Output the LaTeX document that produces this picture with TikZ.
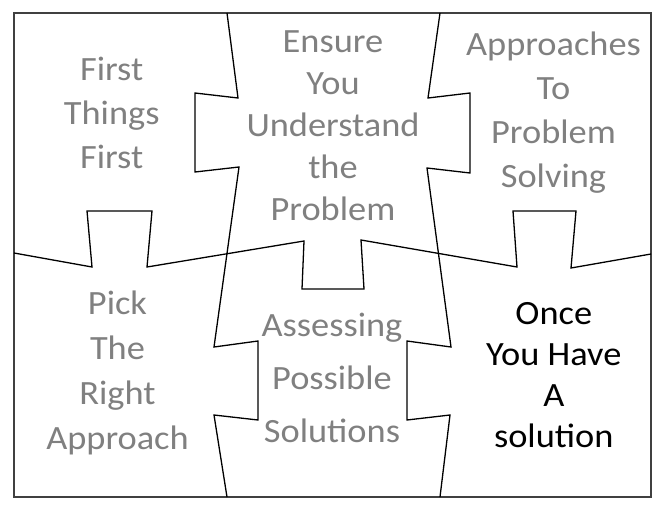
\documentclass[tikz,border=0pt]{standalone}
\usepackage{fontspec}
\setmainfont{Carlito}[FakeStretch=1.07]
\definecolor{textgray}{gray}{0.5}
\definecolor{framegray}{gray}{0.25}
\begin{document}
\begin{tikzpicture}[x=1pt, y=-1pt, line join=miter]
\tikzset{
  piecetext/.style={align=center, anchor=base, inner sep=0pt, text=textgray,
    font=\fontsize{34}{44}\selectfont},
  cutline/.style={line width=1.3pt, black},
}
\useasboundingbox (0,0) rectangle (666,514);

% frame
\draw [line width=1.3pt, framegray] (14,13) rectangle (651,497);

\begin{scope}[cutline]
\draw (227,13) -- (238,98) -- (195,93) -- (195,172) -- (239,167) -- (214,347) -- (258,341) -- (258,420) -- (214,415) -- (227,497); %left cut
\draw (440,13) -- (428,98) -- (470,93) -- (470,173) -- (427,168) -- (451,347) -- (407,341) -- (407,420) -- (450,415) -- (440,497); %right cut
\draw (14,253) -- (92,267) -- (87,211) -- (152,211) -- (147,267) -- (304,241) -- (302,289) -- (364,289) -- (361,240) -- (517,267) -- (513,211) -- (576,211) -- (571,268) -- (651,254); %middle cut
\end{scope}

% piece labels (anchored at the baseline of the last line)
\node [piecetext] (first) at (111.7,168) {First\\Things\\First};
\node [piecetext, font=\fontsize{34}{42}\selectfont] (ensure) at (333,220) {Ensure\\You\\Understand\\the\\Problem};
\node [piecetext] (approaches) at (553.5,187) {Approaches\\To\\Problem\\Solving};
\node [piecetext, font=\fontsize{34}{44.7}\selectfont] (pick) at (117.5,449) {Pick\\The\\Right\\Approach};
\node [piecetext, font=\fontsize{34}{53}\selectfont] (assess) at (332,442) {Assessing\\Possible\\Solutions};
\node [piecetext, text=black, font=\fontsize{34}{41}\selectfont] (once) at (553.8,447) {Once\\You Have\\A\\solution};

\end{tikzpicture}
\end{document}
